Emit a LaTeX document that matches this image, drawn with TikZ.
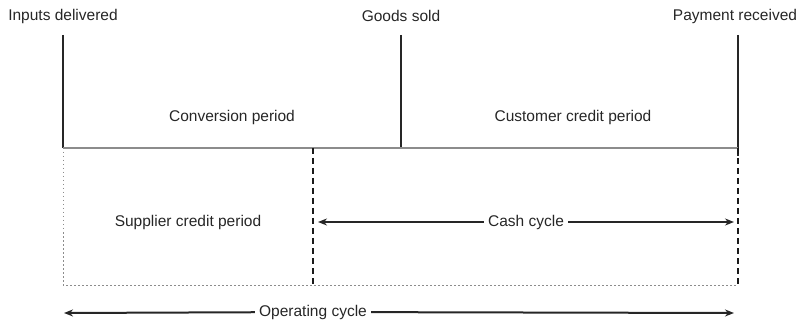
\documentclass[tikz,border=0pt]{standalone}
\usepackage{fontspec}
\setmainfont{Liberation Sans}
\usetikzlibrary{arrows.meta}
\begin{document}
\begin{tikzpicture}[x=1pt,y=-1pt,
  lbl/.style={font=\fontsize{15.5}{18}\selectfont, text=black!85, inner sep=0pt, anchor=center},
  arrlbl/.style={lbl, inner sep=4pt},
  event/.style={line width=2pt, black!85},
  base/.style={line width=1.8pt, black!45},
  dotline/.style={line width=1pt, black!45, dash pattern=on 1.5pt off 2.5pt},
  dashline/.style={line width=2.6pt, black!90, dash pattern=on 6pt off 4pt},
  arr/.style={line width=2pt, black!85, -{Stealth[length=9pt,width=7pt]}}]
\useasboundingbox (0,0) rectangle (803,323);
% top labels
\node[lbl] (inp) at (63,16) {Inputs delivered};
\node[lbl] (goods) at (401,16) {Goods sold};
\node[lbl] (pay) at (735,16) {Payment received};
% coordinates
\coordinate (a1) at (63,35);
\coordinate (a2) at (63,148);
\coordinate (b1) at (401,35);
\coordinate (b2) at (401,148);
\coordinate (c1) at (738,35);
\coordinate (c2) at (738,148);
\coordinate (c3) at (738,285);
\coordinate (a3) at (63,285);
\coordinate (d1) at (313,148);
\coordinate (d2) at (313,285);
% event lines
\draw[event] (a1) -- (a2);
\draw[event] (b1) -- (b2);
\draw[event] (c1) -- (738,156);
\draw[base] (a2) -- (c2);
% lower box
\draw[dotline] (a2) -- (a3) -- (c3);
\draw[dashline] (d1) -- (d2);
\draw[dashline] (c2) -- (c3);
% period labels
\node[lbl] (conv) at (232,117) {Conversion period};
\node[lbl] (cust) at (573,117) {Customer credit period};
\node[lbl] (supp) at (188,222) {Supplier credit period};
% cash cycle
\coordinate (ccL) at (318,222);
\coordinate (ccR) at (734,222);
\node[arrlbl] (cash) at (526,222) {Cash cycle};
\draw[arr] (cash) -- (ccL);
\draw[arr] (cash) -- (ccR);
% operating cycle
\coordinate (ocL) at (64,313);
\coordinate (ocR) at (734,313);
\node[arrlbl] (op) at (313,312) {Operating cycle};
\draw[arr] (op) -- (ocL);
\draw[arr] (op) -- (ocR);
\end{tikzpicture}
\end{document}
